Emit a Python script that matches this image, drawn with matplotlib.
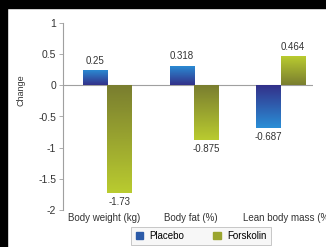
import numpy as np
import matplotlib
matplotlib.use("Agg")
import matplotlib.pyplot as plt
from matplotlib.colors import LinearSegmentedColormap
from matplotlib.patches import Rectangle
from matplotlib.transforms import ScaledTranslation

# ── datos ────────────────────────────────────
categories = ["Body weight (kg)", "Body fat (%)", "Lean body mass (%)"]
placebo = [0.25, 0.318, -0.687]
forskolin = [-1.73, -0.875, 0.464]
labels_placebo = ["0.25", "0.318", "-0.687"]
labels_forskolin = ["-1.73", "-0.875", "0.464"]
yticks = [1, 0.5, 0, -0.5, -1, -1.5, -2]

plt.rcParams["font.family"] = ["Liberation Sans", "DejaVu Sans"]

fig = plt.figure(figsize=(3.26, 2.47), dpi=100)
ax = fig.add_axes([63 / 326, 37 / 247, 250 / 326, 187 / 247])

x = np.arange(len(categories))
w = 0.28
XLIM = (-0.506, 2.37)
YLIM = (-2, 1)

cm_pl = LinearSegmentedColormap.from_list("pl", ["#33318a", "#2a8ed6"])
cm_fk = LinearSegmentedColormap.from_list("fk", ["#7a7e2f", "#b9cb2f"])


def gradient_bars(xs, vals, cmap, color):
    bars = ax.bar(xs, vals, w, color=color, edgecolor="none", zorder=2)
    for b, v in zip(bars, vals):
        x0, y0 = b.get_x(), b.get_y()
        x1, y1 = x0 + b.get_width(), y0 + b.get_height()
        grad = np.linspace(0, 1, 64).reshape(-1, 1)
        if v < 0:
            grad = grad[::-1]  # oscuro junto al cero
        im = ax.imshow(grad, cmap=cmap, extent=(x0, x1, min(y0, y1), max(y0, y1)),
                       origin="lower", aspect="auto", zorder=3)
        im.set_clip_path(b)
    return bars


gradient_bars(x - w / 2, placebo, cm_pl, "#2b5aa8")
gradient_bars(x + w / 2, forskolin, cm_fk, "#9aa52f")

for xi, v, s in zip(x - w / 2, placebo, labels_placebo):
    ax.annotate(s, (xi, v), xytext=(0, 3 if v > 0 else -3), textcoords="offset points",
                ha="center", va="bottom" if v > 0 else "top", fontsize=7, color="#333333")
for xi, v, s in zip(x + w / 2, forskolin, labels_forskolin):
    ax.annotate(s, (xi, v), xytext=(0, 3 if v > 0 else -3), textcoords="offset points",
                ha="center", va="bottom" if v > 0 else "top", fontsize=7, color="#333333")

ax.set_xlim(*XLIM)
ax.set_ylim(*YLIM)
ax.axhline(0, color="#a0a0a0", linewidth=0.8, zorder=1)

for sp in ["top", "right", "bottom"]:
    ax.spines[sp].set_visible(False)
ax.spines["left"].set_color("#a0a0a0")
ax.spines["left"].set_linewidth(0.8)

ax.set_yticks(yticks)
ax.set_yticklabels([f"{t:g}" for t in yticks])
ax.tick_params(axis="y", length=3, width=0.6, color="#a0a0a0", labelsize=7.5,
               labelcolor="#333333", pad=2)
ax.set_xticks(x)
ax.set_xticklabels(categories)
ax.tick_params(axis="x", length=0, labelsize=7, labelcolor="#333333", pad=2)

# pequeños desplazamientos de las etiquetas de categoría
shifts = [-3, -3, 7]
for lab, dx in zip(ax.get_xticklabels(), shifts):
    lab.set_transform(lab.get_transform() + ScaledTranslation(dx / 100, 0, fig.dpi_scale_trans))

ax.set_ylabel("Change", fontsize=6.5, color="#333333")
ax.yaxis.set_label_coords((25 - 63) / 250, (247 - 90 - 37) / 187)

# ── leyenda ──────────────────────────────────
h1 = Rectangle((0, 0), 1, 1, color="#2b5aa8")
h2 = Rectangle((0, 0), 1, 1, color="#9aa52f")
leg = fig.legend([h1, h2], ["Placebo", "Forskolin"], loc="center",
                 bbox_to_anchor=(201 / 326, 11 / 247), ncol=2, fontsize=7,
                 frameon=True, fancybox=False, handlelength=0.8, handleheight=0.8,
                 columnspacing=3.0, handletextpad=0.6, borderpad=0.45, borderaxespad=0)
leg.get_frame().set_edgecolor("#b0b0b0")
leg.get_frame().set_facecolor("#f6f6f6")
leg.get_frame().set_linewidth(0.6)

# ── bordes negros de la captura ──────────────
fig.patches.append(Rectangle((0, 1 - 8 / 247), 1, 8 / 247, transform=fig.transFigure,
                             color="black", zorder=10))
fig.patches.append(Rectangle((0, 0), 7 / 326, 1, transform=fig.transFigure,
                             color="black", zorder=10))

fig.savefig("out.png", dpi=100)
